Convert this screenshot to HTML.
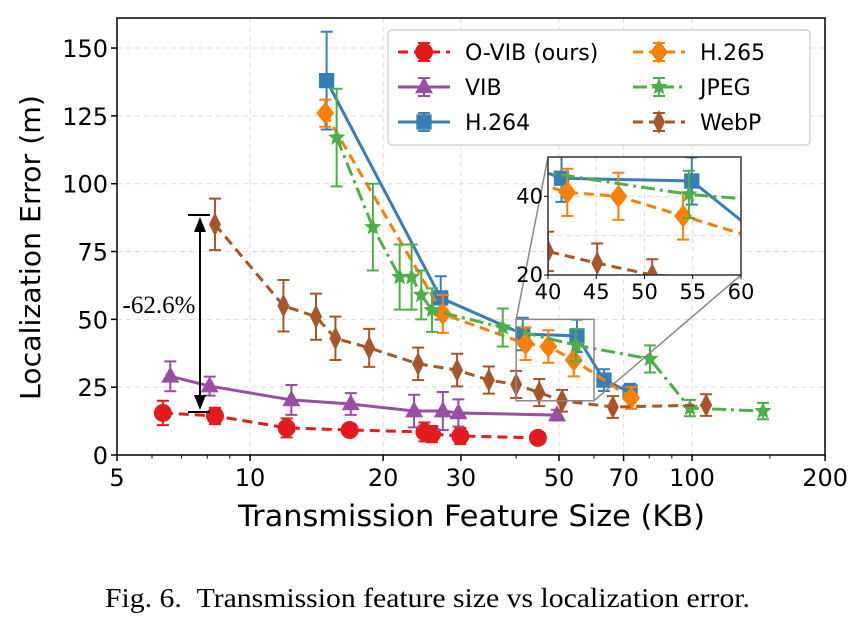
<!DOCTYPE html>
<html><head><meta charset="utf-8"><style>
body{margin:0;background:#fff;}
svg{display:block;font-family:"DejaVu Sans","Liberation Sans",sans-serif;}
</style></head><body>
<svg id="c" width="859" height="623" viewBox="0 0 859 623" xmlns="http://www.w3.org/2000/svg"></svg>
<script>
const xTicks=[5,10,20,30,50,70,100,200];
const yTicks=[0,25,50,75,100,125,150];
const ovibX=[6.35,8.33,12.1,16.8,24.8,25.8,29.9,44.8];
const ovibY=[15.5,14.4,10,9.2,8.5,7.7,7,6.3];
const ovibE=[4.5,3,3.5,1.5,3.5,3,3,2];
const vibX=[6.6,8.1,12.4,16.9,23.5,27.3,29.6,49.5];
const vibY=[29,25.4,20.3,18.8,16.2,16.2,15.5,14.7];
const vibE=[5.5,3.5,5.5,4,6,7,5,2];
const h264X=[14.9,27,41.4,54.9,63.2,72.4];
const h264Y=[138,57.9,44.6,43.9,27.6,23.2];
const h264E=[18,8,6,6,4,3];
const h265X=[14.8,27.3,42,47.3,54,72.8];
const h265Y=[126,52,41,40,35,21];
const h265E=[5,7,6,6,6,4];
const jpegX=[15.7,18.96,21.8,23.2,24.4,25.8,37.3,54.6,80.3,98.9,144.7];
const jpegY=[117,84,65.6,65.6,59,53.4,47,40.5,35.4,17.3,16.2];
const jpegE=[18,16,12,12,9,8,7,6,5,3,3];
const webpX=[8.33,11.9,14.1,15.6,18.6,24,29.4,34.7,40,45.1,50.8,66.2,107.6];
const webpY=[85,55,51,43,39.5,33.6,31.3,27.6,26,23,20,17.7,18.4];
const webpE=[9.5,9.5,8.5,8,7,6,6,5,5,5,4,4,4];
const legendNames=["O-VIB (ours)","VIB","H.264","H.265","JPEG","WebP"];

const svg=document.getElementById('c');
const NS="http://www.w3.org/2000/svg";
function mk(tag,attrs,parent){const e=document.createElementNS(NS,tag);for(const k in attrs)e.setAttribute(k,attrs[k]);(parent||svg).appendChild(e);return e;}
const L=117,R=825,T=18,B=455;
const xs=v=>L+442*Math.log10(v/5);
const ys=v=>B-v*2.713;

for(const t of xTicks){const g=mk('line',{x1:xs(t),x2:xs(t),y1:T,y2:B,stroke:'#ddd','stroke-dasharray':'5,4','stroke-width':1});
}
for(const t of yTicks){const g=mk('line',{x1:L,x2:R,y1:ys(t),y2:ys(t),stroke:'#ddd','stroke-dasharray':'5,4','stroke-width':1});
}

const C={ovib:'#e41a1c',vib:'#984ea3',h264:'#377eb8',h265:'#ff7f00',jpeg:'#4daf4a',webp:'#a65628'};
function marker(type,x,y,col,r,parent){
 let e;
 if(type==='circle')e=mk('circle',{cx:x,cy:y,r:r,fill:col},parent);
 else if(type==='tri')e=mk('polygon',{points:`${x},${y-r*1.1} ${x-r},${y+r*0.7} ${x+r},${y+r*0.7}`,fill:col},parent);
 else if(type==='sq')e=mk('rect',{x:x-r*0.85,y:y-r*0.85,width:r*1.7,height:r*1.7,fill:col},parent);
 else if(type==='dia')e=mk('polygon',{points:`${x},${y-r*1.15} ${x+r*0.9},${y} ${x},${y+r*1.15} ${x-r*0.9},${y}`,fill:col},parent);
 else if(type==='thin')e=mk('polygon',{points:`${x},${y-r*1.2} ${x+r*0.6},${y} ${x},${y+r*1.2} ${x-r*0.6},${y}`,fill:col},parent);
 else{let p=[];for(let i=0;i<10;i++){const a=-Math.PI/2+i*Math.PI/5,rr=i%2?r*0.45:r;p.push((x+rr*Math.cos(a))+','+(y+rr*Math.sin(a)));}
  e=mk('polygon',{points:p.join(' '),fill:col},parent);}
 return e;
}
const series=[
 {n:'o-vib',X:ovibX,Y:ovibY,E:ovibE,c:C.ovib,m:'circle',d:'10,6',r:9},
 {n:'vib',X:vibX,Y:vibY,E:vibE,c:C.vib,m:'tri',d:'',r:9},
 {n:'h264',X:h264X,Y:h264Y,E:h264E,c:C.h264,m:'sq',d:'',r:9},
 {n:'h265',X:h265X,Y:h265Y,E:h265E,c:C.h265,m:'dia',d:'10,6',r:10},
 {n:'jpeg',X:jpegX,Y:jpegY,E:jpegE,c:C.jpeg,m:'star',d:'14,5,3,5',r:9},
 {n:'webp',X:webpX,Y:webpY,E:webpE,c:C.webp,m:'thin',d:'10,6',r:10}
];
function drawSeries(s,xf,yf,parent,scale){
 const g=mk('g',{},parent);
 
 const pts=s.X.map((v,i)=>xf(v)+','+yf(s.Y[i])).join(' ');
 const ln=mk('polyline',{points:pts,fill:'none',stroke:s.c,'stroke-width':3,'stroke-dasharray':s.d},g);
 
 s.X.forEach((v,i)=>{
  const x=xf(v),y1=yf(s.Y[i]-s.E[i]),y2=yf(s.Y[i]+s.E[i]);
  const eb=mk('path',{d:`M${x},${y1}V${y2}M${x-6},${y1}h12M${x-6},${y2}h12`,stroke:s.c,'stroke-width':2,fill:'none'},g);
  
  const mm=marker(s.m,x,yf(s.Y[i]),s.c,s.r*scale,g);
  
 });
}
series.forEach(s=>drawSeries(s,xs,ys,svg,1));

const fr=mk('rect',{x:L,y:T,width:R-L,height:B-T,fill:'none',stroke:'#000','stroke-width':1.5});

for(const t of xTicks){mk('line',{x1:xs(t),x2:xs(t),y1:B,y2:B+6,stroke:'#000','stroke-width':1.5});
 const tx=mk('text',{x:xs(t),y:B+31,'text-anchor':'middle','font-size':24});tx.textContent=t;
 }
for(const t of [6,7,8,9,40,60,80,90,150]){mk('line',{x1:xs(t),x2:xs(t),y1:B,y2:B+3.5,stroke:'#000','stroke-width':1});}
for(const t of yTicks){mk('line',{x1:L-6,x2:L,y1:ys(t),y2:ys(t),stroke:'#000','stroke-width':1.5});
 const tx=mk('text',{x:L-9,y:ys(t)+9,'text-anchor':'end','font-size':24});tx.textContent=t;
 }
let t=mk('text',{x:238,y:526,'font-size':29,textLength:467,lengthAdjust:'spacingAndGlyphs'});t.textContent='Transmission Feature Size (KB)';

t=mk('text',{x:0,y:0,'font-size':28,textLength:305,lengthAdjust:'spacingAndGlyphs',transform:'translate(40,400) rotate(-90)'});t.textContent='Localization Error (m)';


const ar=mk('g',{});
mk('path',{d:'M188,215h22M188,412h22M200,222V405',stroke:'#000','stroke-width':2,fill:'none'},ar);
mk('polygon',{points:'200,217 194,232 206,232',fill:'#000'},ar);
mk('polygon',{points:'200,410 194,395 206,395',fill:'#000'},ar);
t=mk('text',{x:159,y:313,'text-anchor':'middle','font-size':25,'font-family':'"Liberation Serif",serif'});t.textContent='-62.6%';


const zx=xs(40),zx2=xs(60),zy=ys(50),zy2=ys(20);
const IL=548,IR=741,IT=157,IB=275;
mk('rect',{x:zx,y:zy,width:zx2-zx,height:zy2-zy,fill:'none',stroke:'#888','stroke-width':1.5});
mk('line',{x1:zx,y1:zy,x2:IL,y2:IT,stroke:'#888','stroke-width':1.5});
mk('line',{x1:zx2,y1:zy2,x2:IR,y2:IB,stroke:'#888','stroke-width':1.5});

const ins=mk('g',{});
mk('rect',{x:IL,y:IT,width:IR-IL,height:IB-IT,fill:'#fff'},ins);
const ixs=v=>IL+(v-40)*(IR-IL)/20, iys=v=>IB-(v-20)*(IB-IT)/30;
const cp=mk('clipPath',{id:'ic'},svg);mk('rect',{x:IL,y:IT,width:IR-IL,height:IB-IT},cp);
for(const v of [45,50,55])mk('line',{x1:ixs(v),x2:ixs(v),y1:IT,y2:IB,stroke:'#ddd','stroke-dasharray':'5,4'},ins);
for(const v of [30,40])mk('line',{x1:IL,x2:IR,y1:iys(v),y2:iys(v),stroke:'#ddd','stroke-dasharray':'5,4'},ins);
const ig=mk('g',{'clip-path':'url(#ic)'},ins);
series.forEach(s=>drawSeries(s,ixs,iys,ig,1));
mk('rect',{x:IL,y:IT,width:IR-IL,height:IB-IT,fill:'none',stroke:'#333','stroke-width':1.5},ins);
for(const v of [40,45,50,55,60]){mk('line',{x1:ixs(v),x2:ixs(v),y1:IB,y2:IB+4,stroke:'#000'},ins);
 const tx=mk('text',{x:ixs(v),y:IB+24,'text-anchor':'middle','font-size':21},ins);tx.textContent=v;}
for(const v of [20,40]){mk('line',{x1:IL-4,x2:IL,y1:iys(v),y2:iys(v),stroke:'#000'},ins);
 const tx=mk('text',{x:IL-5,y:iys(v)+7,'text-anchor':'end','font-size':21},ins);tx.textContent=v;}

const lg=mk('g',{});
mk('rect',{x:388,y:30,width:422,height:115,rx:4,fill:'#fff',stroke:'#ccc','stroke-width':1.2},lg);
[0,1,2,3,4,5].forEach((k,i)=>{
 const s=series[k];const col=i<3?0:1,row=i%3;
 const x0=col?633:398,y0=52+row*35;
 const e=mk('g',{},lg);
 mk('line',{x1:x0,x2:x0+52,y1:y0,y2:y0,stroke:s.c,'stroke-width':3,'stroke-dasharray':s.d},e);
 mk('path',{d:`M${x0+26},${y0-9}V${y0+9}M${x0+20},${y0-9}h12M${x0+20},${y0+9}h12`,stroke:s.c,'stroke-width':2},e);
 marker(s.m,x0+26,y0,s.c,s.r,e);
 const tx=mk('text',{x:x0+67,y:y0+8,'font-size':22},e);tx.textContent=legendNames[k];
});

t=mk('text',{x:105,y:607,'font-size':27,textLength:645,lengthAdjust:'spacingAndGlyphs','font-family':'"Liberation Serif",serif'});
t.textContent='Fig. 6.\u00a0\u00a0Transmission feature size vs localization error.';

</script>
</body></html>
